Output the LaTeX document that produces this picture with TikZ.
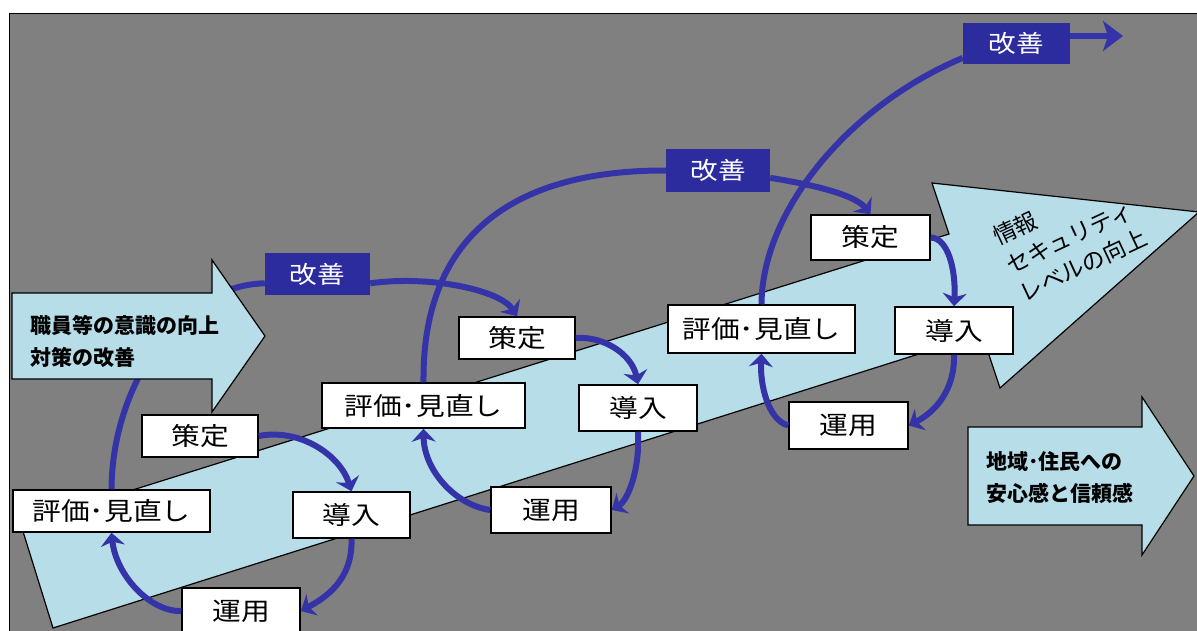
\documentclass[tikz,border=0pt]{standalone}
\usepackage{fontspec}
\setmainfont{Noto Sans CJK JP}
\newfontfamily\jp{Noto Sans CJK JP}
\usetikzlibrary{arrows.meta,calc}
\definecolor{bgray}{RGB}{128,128,128}
\definecolor{lblue}{RGB}{183,221,232}
\definecolor{ablue}{RGB}{52,52,168}
\definecolor{kblue}{RGB}{44,44,158}
\newcommand\hx[1]{\scalebox{1.15}[1]{#1}}
\begin{document}
\begin{tikzpicture}[x=1pt,y=-1pt,
  wbox/.style={draw=black, line width=1.5pt, fill=white, inner sep=0pt, text=black, font=\jp\fontsize{25}{28}\selectfont},
  kbox/.style={fill=kblue, inner sep=0pt, text=white, font=\jp\fontsize{24}{28}\selectfont},
  sz/.style 2 args={minimum width=#1pt, minimum height=#2pt},
  flow/.style={draw=ablue, line width=6pt, -{Stealth[length=13pt,width=24pt,inset=4pt]}},
  link/.style={draw=ablue, line width=6pt},
  block/.style={draw=black, line width=1.2pt, fill=lblue, line join=miter},
  btext/.style={font=\jp\bfseries\fontsize{21}{32}\selectfont, align=left, inner sep=0pt, anchor=west, text=black}
]
\useasboundingbox (0,0) rectangle (1197,630);
\clip (0,0) rectangle (1197,630);
% background
\draw[fill=bgray, draw=black, line width=1pt] (9,13) rectangle (1210,645);
% big rising arrow
\draw[block] (53,628) -- (21,525) -- (949,234) -- (932,183) -- (1199,212) -- (1000,388) -- (982,334) -- cycle;
\node[font=\jp\fontsize{23}{31}\selectfont, align=left, rotate=25, inner sep=0pt, text=black] (lvl) at (1070,237) {情報\\セキュリティ\\レベルの向上};
% right block arrow
\draw[block] (968,427) -- (1142,427) -- (1142,397) -- (1194,476) -- (1142,555) -- (1142,525) -- (968,525) -- cycle;
\node[btext] (trust) at (986,478) {地域･住民への\\安心感と信頼感};
% boxes
\node[wbox, sz={116}{42}] (s1) at (200,436) {\hx{策定}};
\node[wbox, sz={197}{42}] (h1) at (111.5,511) {\hx{評価･見直し}};
\node[wbox, sz={117}{46}] (d1) at (351.5,515) {\hx{導入}};
\node[wbox, sz={118}{46}] (u1) at (241,611) {\hx{運用}};
\node[kbox, sz={105}{42}] (k1) at (317.5,274) {\hx{改善}};
\node[wbox, sz={116}{42}] (s2) at (517,338) {\hx{策定}};
\node[wbox, sz={203}{45}] (h2) at (423.5,405.5) {\hx{評価･見直し}};
\node[wbox, sz={118}{46}] (d2) at (638,408) {\hx{導入}};
\node[wbox, sz={120}{46}] (u2) at (551,510) {\hx{運用}};
\node[kbox, sz={104}{43}] (k2) at (718,170.5) {\hx{改善}};
\node[wbox, sz={119}{45}] (s3) at (870.5,237.5) {\hx{策定}};
\node[wbox, sz={187}{48}] (h3) at (761.5,329) {\hx{評価･見直し}};
\node[wbox, sz={118}{47}] (d3) at (954,330.5) {\hx{導入}};
\node[wbox, sz={119}{47}] (u3) at (848.5,425.5) {\hx{運用}};
\node[kbox, sz={107}{41}] (k3) at (1016.5,43.5) {\hx{改善}};
\coordinate (kend) at (1123,36);
% first improvement arc (under left block arrow)
\draw[link] (h1.north) .. controls (112,385) and (180,285) .. (k1.190);
% left block arrow
\draw[block] (12,293) -- (212,293) -- (212,260) -- (265,336) -- (212,412) -- (212,379) -- (12,379) -- cycle;
\node[btext] (aware) at (30,341) {職員等の意識の向上\\対策の改善};
% cycle 1
\draw[flow] (s1.east) .. controls (300,428) and (340,455) .. (d1.north);
\draw[flow] (d1.south) .. controls (353,580) and (325,598) .. (u1.east);
\draw[flow] (u1.west) .. controls (150,612) and (116,575) .. (h1.south);
\draw[flow] (k1.-10) .. controls (430,275) and (500,290) .. (s2.north);
% cycle 2
\draw[flow] (s2.east) .. controls (605,336) and (632,355) .. (d2.north);
\draw[flow] (d2.south) .. controls (640,470) and (628,500) .. (u2.east);
\draw[flow] (u2.west) .. controls (455,505) and (424,470) .. (h2.south);
\draw[link] (h2.north) .. controls (422,230) and (520,170) .. (k2.west);
\draw[flow] (k2.-8) .. controls (815,185) and (855,195) .. (s3.north);
% cycle 3
\draw[flow] (s3.east) .. controls (948,238) and (956,270) .. (d3.north);
\draw[flow] (d3.south) .. controls (955,390) and (935,412) .. (u3.east);
\draw[flow] (u3.west) .. controls (768,420) and (760,385) .. (h3.south);
\draw[link] (h3.north) .. controls (762,210) and (850,105) .. (k3.195);
\draw[draw=ablue, line width=6pt, -{Stealth[length=20pt,width=30pt,inset=5pt]}] (k3.east |- kend) -- (kend);
\end{tikzpicture}
\end{document}
